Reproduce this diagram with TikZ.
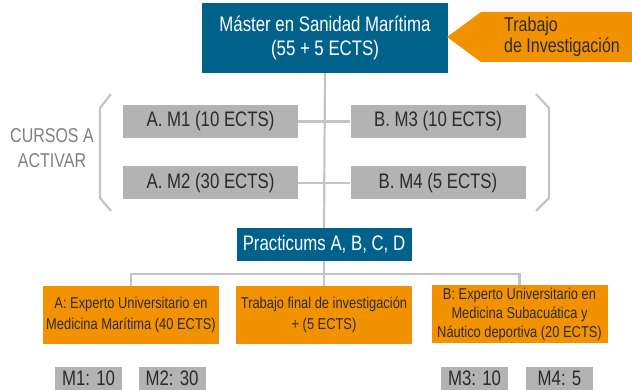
\documentclass[tikz,border=0pt]{standalone}
\usepackage{fontspec}
\setmainfont{Liberation Sans}[FakeStretch=0.8]
\newfontfamily\boxfont{Liberation Sans}[FakeStretch=0.82]

\definecolor{marblue}{HTML}{00628B}
\definecolor{marorange}{HTML}{F39200}
\definecolor{margrey}{HTML}{B3B3B3}
\definecolor{marline}{HTML}{C4C4C4}
\definecolor{martext}{HTML}{2B2B2B}

\tikzset{
  card/.style={inner sep=2pt, align=center, text=martext},
  bluecard/.style={card, fill=marblue, text=white, font=\fontsize{21}{24}\selectfont},
  greycard/.style={card, fill=margrey, minimum width=175pt, minimum height=33pt, font=\fontsize{21}{24}\selectfont},
  orangecard/.style={card, fill=marorange, minimum width=176pt, minimum height=58pt, font=\boxfont\fontsize{15.7}{20.5}\selectfont},
  tagcard/.style={card, fill=margrey, inner sep=0pt, minimum width=67pt, minimum height=23pt, font=\fontsize{21}{24}\selectfont},
  link/.style={draw=marline, line width=2.2pt},
}

\begin{document}
\begin{tikzpicture}[x=1pt,y=-1pt]

\clip (0,0) rectangle (632,390);

% Master
\node[bluecard, minimum width=246pt, minimum height=70pt] (master) at (325,38) {M\'aster en Sanidad Mar\'itima\\(55 + 5 ECTS)};

% Trabajo de Investigacion
\fill[marorange] (447,37) -- (481,12) -- (632,12) -- (632,62) -- (481,62) -- cycle;
\node[anchor=west, align=left, text=martext, inner sep=0pt, font=\fontsize{20}{21}\selectfont] (trabajo) at (504,37) {Trabajo\\de Investigaci\'on};

% Cursos a activar
\node[greycard] (m1) at (210.5,121.5) {A. M1 (10 ECTS)};
\node[greycard] (m3) at (438,121.5) {B. M3 (10 ECTS)};
\node[greycard] (m2) at (210.5,183) {A. M2 (30 ECTS)};
\node[greycard] (m4) at (438,183) {B. M4 (5 ECTS)};
\node[align=center, text=gray, font=\fontsize{20}{25}\selectfont] (cursos) at (52,148) {CURSOS A\\ACTIVAR};

% Llaves
\draw[marline, line width=2.2pt] (111,94) -- (100,108) -- (100,198) -- (111,211);
\draw[marline, line width=2.2pt] (536,94) -- (549,108) -- (549,198) -- (536,211);

% Practicums
\node[bluecard, minimum width=175pt, minimum height=33pt] (prac) at (324,244.5) {Practicums A, B, C, D};

% Salidas
\node[orangecard] (expa) at (131,315) {A: Experto Universitario en\\Medicina Mar\'itima (40 ECTS)};
\node[orangecard] (tfi) at (324,315) {Trabajo final de investigaci\'on\\+ (5 ECTS)};
\node[orangecard, font=\boxfont\fontsize{15.7}{19}\selectfont] (expb) at (519.5,314) {B: Experto Universitario en\\Medicina Subacu\'atica y\\N\'autico deportiva (20 ECTS)};

% Creditos
\node[tagcard] (t1) at (88.5,378.5) {M1: 10};
\node[tagcard] (t2) at (172,378.5) {M2: 30};
\node[tagcard] (t3) at (474.5,378.5) {M3: 10};
\node[tagcard] (t4) at (559.5,378.5) {M4: 5};

% Conectores
\coordinate (bus) at (324,274);
\draw[link] (master.south) -- (prac.north);
\draw[link] (m1.east) -- (m3.west);
\draw[link] (m2.east) -- (m4.west);
\draw[link] (prac.south) -- (tfi.north);
\draw[link] (expa.north) -- (expa.north |- bus) -- (expb.north |- bus) -- (expb.north);

\end{tikzpicture}
\end{document}
